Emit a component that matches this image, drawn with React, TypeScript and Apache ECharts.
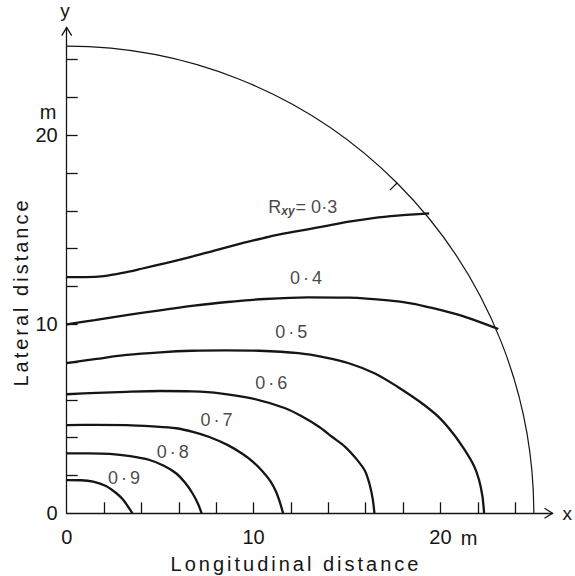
import React, { useEffect, useRef } from "react";
import * as echarts from "echarts";

// ---- data (metres) ----
const X_TICKS = [2, 4, 6, 8, 10, 12, 14, 16, 18, 20, 22, 24];
const Y_TICKS = [2, 4, 6, 8, 10, 12, 14, 16, 18, 20, 22, 24];
const AXIS_LABELS = [0, 10, 20];
const BOUNDARY_RADIUS = 25;

const c03 = [[0, 12.5], [1, 12.5], [2, 12.55], [3, 12.72], [4, 12.94], [5.3, 13.24], [6.7, 13.58], [8, 13.93], [9.4, 14.29], [10.8, 14.63], [12.2, 14.9], [13.6, 15.15], [15.1, 15.43], [16.4, 15.62], [17.7, 15.75], [19.4, 15.87]];
const c04 = [[0, 10], [1.5, 10.22], [3.2, 10.49], [5, 10.74], [6.7, 10.97], [8.6, 11.18], [10.6, 11.34], [12.9, 11.43], [15.1, 11.41], [17.2, 11.27], [18.5, 11.1], [19.5, 10.88], [20.6, 10.6], [21.6, 10.3], [23.1, 9.75]];
const c05 = [[0, 7.95], [1.6, 8.17], [3.2, 8.38], [5, 8.52], [6.7, 8.6], [8.5, 8.62], [10.3, 8.6], [12.4, 8.47], [13.8, 8.25], [15.1, 7.94], [16.5, 7.4], [17.7, 6.7], [18.9, 5.9], [19.9, 5.1], [20.7, 4.2], [21.3, 3.35], [21.8, 2.5], [22.07, 1.76], [22.25, 0.9], [22.34, 0]];
const c06 = [[0, 6.3], [1.6, 6.37], [3.2, 6.43], [5, 6.47], [6.7, 6.45], [8.2, 6.35], [9.9, 6.08], [11.7, 5.56], [12.6, 5.12], [13.5, 4.58], [14.2, 4.05], [14.9, 3.52], [15.5, 2.88], [15.96, 2.25], [16.22, 1.5], [16.38, 0.75], [16.47, 0]];
const c07 = [[0, 4.67], [1.6, 4.68], [3.2, 4.67], [4.6, 4.6], [5.85, 4.5], [6.8, 4.3], [7.6, 4.05], [8.6, 3.62], [9.4, 3.15], [10.0, 2.7], [10.5, 2.2], [10.9, 1.7], [11.2, 1.15], [11.42, 0.55], [11.58, 0]];
const c08 = [[0, 3.17], [1.2, 3.17], [2.3, 3.14], [3.4, 3.02], [4.43, 2.82], [5.2, 2.52], [5.85, 2.12], [6.35, 1.6], [6.73, 1.06], [7.02, 0.52], [7.22, 0]];
const c09 = [[0, 1.76], [0.75, 1.75], [1.42, 1.67], [2.1, 1.44], [2.66, 1.06], [3.0, 0.74], [3.25, 0.4], [3.52, 0]];

const CURVES = [c03, c04, c05, c06, c07, c08, c09];
const CURVE_NAMES = ["0·3", "0·4", "0·5", "0·6", "0·7", "0·8", "0·9"];
// label anchor points (data coords) and texts
const LABEL_POS = [[12.63, 16.23], [12.89, 12.45], [12.1, 9.59], [11.03, 6.92], [8.1, 4.94], [5.76, 3.24], [3.15, 1.89]];
const LABEL_TEXT = ["{r|R}{s|xy}{n|= 0·3}", "0·4", "0·5", "0·6", "0·7", "0·8", "0·9"];

const FONT = "'Liberation Sans', Arial, sans-serif";
const INK = "#151515";

const SPACING: Record<string, string> = {
  "Lateral distance": "3px",
  "Longitudinal distance": "3px",
  "0·4": "3px",
  "0·5": "3px",
  "0·6": "3px",
  "0·7": "3px",
  "0·8": "3px",
  "0·9": "3px",
};

export default function App() {
  const ref = useRef<HTMLDivElement>(null);

  useEffect(() => {
    if (!ref.current) return;
    const chart = echarts.init(ref.current, null, { renderer: "svg" });

    const axisCommon = {
      axisLine: { show: true, lineStyle: { color: INK, width: 1.3 } },
      axisTick: { show: true, inside: true, length: 11, lineStyle: { color: INK, width: 1.3 } },
      splitLine: { show: false },
    };

    const option: any = {
      animation: false,
      backgroundColor: "#fff",
      grid: { left: 66.7, right: 19.5, top: 27.6, bottom: 62.7, containLabel: false },
      xAxis: {
        type: "value",
        min: 0,
        max: 26,
        name: "x",
        nameLocation: "end",
        nameGap: 10,
        nameTextStyle: { fontFamily: FONT, fontSize: 19, color: INK, verticalAlign: "middle" },
        ...axisCommon,
        axisTick: { ...axisCommon.axisTick, customValues: X_TICKS },
        axisLabel: {
          customValues: AXIS_LABELS,
          margin: 14,
          fontFamily: FONT,
          fontSize: 20,
          color: INK,
        },
      },
      yAxis: {
        type: "value",
        min: 0,
        max: 25.7,
        name: "y",
        nameLocation: "end",
        nameGap: 8,
        nameTextStyle: { fontFamily: FONT, fontSize: 19, color: INK, align: "right", padding: [0, -3, 0, 0] },
        ...axisCommon,
        axisTick: { ...axisCommon.axisTick, customValues: Y_TICKS },
        axisLabel: {
          customValues: AXIS_LABELS,
          margin: 9,
          fontFamily: FONT,
          fontSize: 20,
          color: INK,
        },
      },
      graphic: [
        {
          type: "text",
          x: 296,
          y: 564,
          style: { text: "Longitudinal distance", font: `20px ${FONT}`, fill: INK, textAlign: "center", textVerticalAlign: "middle" },
        },
        {
          type: "text",
          x: 21,
          y: 292,
          rotation: Math.PI / 2,
          style: { text: "Lateral distance", font: `20px ${FONT}`, fill: INK, textAlign: "center", textVerticalAlign: "middle" },
        },
        {
          type: "text",
          x: 469,
          y: 538,
          style: { text: "m", font: `20px ${FONT}`, fill: INK, textAlign: "center", textVerticalAlign: "middle" },
        },
        {
          type: "text",
          x: 48,
          y: 112,
          style: { text: "m", font: `20px ${FONT}`, fill: INK, textAlign: "center", textVerticalAlign: "middle" },
        },
      ],
      series: [
        ...CURVES.map((d, i) => ({
          type: "line",
          name: CURVE_NAMES[i],
          data: d,
          showSymbol: false,
          smooth: 0.3,
          clip: false,
          lineStyle: { color: INK, width: 2.3 },
          silent: true,
        })),
        {
          type: "custom",
          name: "boundary",
          data: [[0, 0, BOUNDARY_RADIUS]],
          clip: false,
          silent: true,
          renderItem: (_p: any, api: any) => {
            const c = api.coord([0, 0]);
            const r = api.size([api.value(2), 0])[0];
            const a = Math.PI / 4;
            return {
              type: "group",
              children: [
                {
                  type: "arc",
                  shape: { cx: c[0], cy: c[1], r, startAngle: -Math.PI / 2, endAngle: 0, clockwise: true },
                  style: { stroke: INK, lineWidth: 1.2, fill: "none" },
                },
                {
                  type: "line",
                  shape: {
                    x1: c[0] + r * Math.cos(a),
                    y1: c[1] - r * Math.sin(a),
                    x2: c[0] + (r - 10) * Math.cos(a),
                    y2: c[1] - (r - 10) * Math.sin(a),
                  },
                  style: { stroke: INK, lineWidth: 1.2 },
                },
              ],
            };
          },
        },
        {
          type: "custom",
          name: "arrows",
          data: [[26, 0, 0], [0, 25.7, 1]],
          clip: false,
          silent: true,
          renderItem: (_p: any, api: any) => {
            const p = api.coord([api.value(0), api.value(1)]);
            const pts =
              api.value(2) === 0
                ? [[p[0] - 8, p[1] - 5], [p[0], p[1]], [p[0] - 8, p[1] + 5]]
                : [[p[0] - 5, p[1] + 8], [p[0], p[1]], [p[0] + 5, p[1] + 8]];
            return { type: "polyline", shape: { points: pts }, style: { stroke: INK, lineWidth: 1.3, fill: "none" } };
          },
        },
        {
          type: "scatter",
          name: "labels",
          symbolSize: 0,
          silent: true,
          clip: false,
          data: LABEL_POS.map((p, i) => [p[0], p[1], LABEL_TEXT[i]]),
          label: {
            show: true,
            position: "inside",
            formatter: (p: any) => p.data[2],
            fontFamily: FONT,
            fontSize: 18,
            color: INK,
            rich: {
              r: { fontFamily: FONT, fontSize: 18, color: INK, lineHeight: 20 },
              s: { fontFamily: FONT, fontSize: 12, fontStyle: "italic", fontWeight: "bold", color: INK, lineHeight: 12, verticalAlign: "bottom", padding: [0, 1, 0, 0] },
              n: { fontFamily: FONT, fontSize: 18, color: INK, lineHeight: 20 },
            },
          },
        },
      ],
    };

    chart.setOption(option);

    const applySpacing = () => {
      ref.current?.querySelectorAll("text").forEach((t) => {
        const s = SPACING[(t.textContent || "").trim()];
        if (s) (t as SVGTextElement).style.letterSpacing = s;
      });
    };
    applySpacing();
    chart.on("finished", applySpacing);

    return () => chart.dispose();
  }, []);

  return (
    <div
      ref={ref}
      style={{ position: "fixed", left: 0, top: 0, width: 575, height: 576, background: "#fff" }}
    />
  );
}
